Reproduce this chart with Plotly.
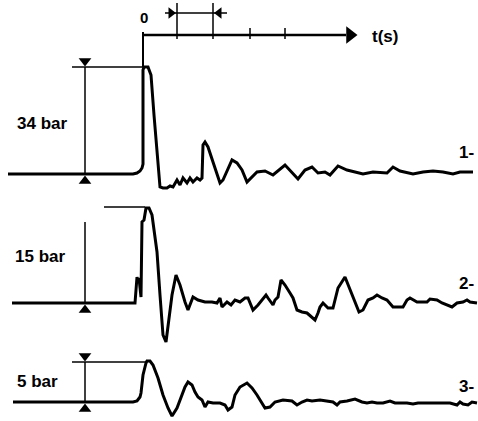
import plotly.graph_objects as go

# ---- data (time, signal) in drawing units ----
trace1 = [(8,174),(133,174),(137,173),(140,171),(142,168),(143,164),(143,70),(144,67),(148,67),
          (151,75),(154,115),(157,150),(160,187),(163,188),(167,188),(170,186),(173,187),(177,180),
          (180,185),(183,178),(187,183),(190,178),(193,182),(197,178),(200,180),(202,178),(203,145),
          (205,142),(208,147),(214,165),(220,183),(223,180),(232,160),(237,163),(242,170),(247,182),
          (257,172),(265,171),(273,175),(285,165),(292,172),(298,179),(305,170),(312,167),(318,173),
          (325,172),(330,175),(338,166),(347,170),(355,172),(363,174),(373,172),(387,173),(393,167),
          (400,171),(413,174),(423,172),(433,171),(443,172),(453,174),(460,172),(473,172)]

trace2 = [(12,303),(135,303),(137,277),(138,283),(139,278),(141,297),(142,222),(144,220),(146,208),
          (149,208),(152,215),(157,252),(160,295),(163,335),(166,342),(168,328),(172,295),(176,275),
          (180,285),(185,302),(188,310),(193,297),(198,300),(205,302),(212,302),(217,303),(220,298),
          (222,307),(227,302),(231,305),(235,300),(240,302),(245,298),(248,298),(253,310),(258,305),
          (263,299),(266,295),(268,298),(273,305),(275,300),(278,297),(281,280),(285,285),(290,293),
          (293,298),(297,310),(302,312),(307,313),(312,317),(315,320),(318,313),(320,307),(323,303),
          (328,308),(333,308),(338,288),(345,277),(350,290),(355,303),(359,312),(363,310),(368,300),
          (373,298),(377,295),(382,298),(387,300),(393,307),(403,307),(407,300),(410,298),(417,302),
          (427,302),(430,299),(437,300),(442,303),(447,305),(452,307),(457,303),(463,302),(467,300),
          (470,302),(477,303)]

trace3 = [(13,402),(133,402),(137,401),(140,397),(141,393),(142,383),(143,375),(146,363),(147,361),
          (150,361),(153,365),(158,378),(163,395),(168,408),(172,416),(177,408),(182,395),(185,387),
          (188,382),(192,385),(195,392),(198,397),(202,400),(205,407),(208,402),(213,403),(220,403),
          (225,405),(228,410),(232,407),(235,395),(240,387),(247,383),(252,388),(257,395),(262,403),
          (265,408),(270,407),(275,402),(283,400),(292,401),(297,405),(302,402),(307,400),(312,401),
          (320,400),(327,401),(333,402),(337,405),(340,402),(347,401),(355,399),(362,402),(367,403),
          (372,402),(377,403),(383,403),(390,401),(395,403),(400,403),(407,403),(413,404),(418,403),
          (425,403),(432,403),(440,403),(450,403),(457,405),(460,402),(463,404),(468,405),(472,402),
          (477,403)]

trace_labels = ["1-", "2-", "3-"]
trace_label_pos = [(466,152), (466,283), (466,386)]

bar_labels = ["34 bar", "15 bar", "5 bar"]
bar_label_pos = [(42,123), (40,256), (37,381)]

# dimension markers: (x, top, bottom, ref-line x0, ref-line x1, top arrow?, vertical top)
dims = [(85, 67, 174, 72, 143, True, 67),
        (85, 207, 303, 104, 145, False, 222),
        (85, 362, 402, 72, 147, True, 362)]

time_ticks = [177, 213, 250, 285]
time_tick_tops = [3, 3, 28, 28]

BLACK = "#000000"
fig = go.Figure()

def line(xs, ys, w):
    fig.add_trace(go.Scatter(x=xs, y=ys, mode="lines", line=dict(color=BLACK, width=w),
                             hoverinfo="skip"))

def arrow(x, y, sym, size):
    fig.add_trace(go.Scatter(x=[x], y=[y], mode="markers",
                             marker=dict(symbol=sym, size=size, color=BLACK, line=dict(width=0)),
                             hoverinfo="skip"))

for tr in (trace1, trace2, trace3):
    xs, ys = zip(*tr)
    line(list(xs), list(ys), 3)

# time axis
line([143, 346], [35, 35], 2.5)
arrow(350, 35, "triangle-right", 15)
line([143, 143], [32, 67], 2)
for tx, top in zip(time_ticks, time_tick_tops):
    line([tx, tx], [top, 39], 1.5)
# scale bar between first two ticks
line([165, 227], [13, 13], 1.5)
arrow(171, 13, "triangle-right", 10)
arrow(219, 13, "triangle-left", 10)

# dimension markers
for (dx, top, bot, hx0, hx1, has_top, vtop) in dims:
    line([hx0, hx1], [top, top], 1.5)
    line([dx, dx], [vtop, bot], 1.5)
    if has_top:
        arrow(dx, top - 6, "triangle-down", 11)
    arrow(dx, bot + 7, "triangle-up", 11)

FONT = "Liberation Sans, Arial, sans-serif"
ann = []
for txt, (x, y) in zip(bar_labels, bar_label_pos):
    ann.append(dict(x=x, y=y, text="<b>%s</b>" % txt, showarrow=False,
                    font=dict(family=FONT, size=17, color=BLACK)))
for txt, (x, y) in zip(trace_labels, trace_label_pos):
    ann.append(dict(x=x, y=y, text="<b>%s</b>" % txt, showarrow=False,
                    font=dict(family=FONT, size=17, color=BLACK)))
ann.append(dict(x=144, y=17, text="<b>0</b>", showarrow=False,
                font=dict(family=FONT, size=15, color=BLACK)))
ann.append(dict(x=385, y=36, text="<b>t(s)</b>", showarrow=False,
                font=dict(family=FONT, size=17, color=BLACK)))

fig.update_layout(
    width=478, height=421, margin=dict(l=0, r=0, t=0, b=0),
    paper_bgcolor="white", plot_bgcolor="white", showlegend=False,
    xaxis=dict(range=[0, 478], visible=False, fixedrange=True),
    yaxis=dict(range=[421, 0], visible=False, fixedrange=True),
    annotations=ann,
)

fig.write_html("out.html", config={"displayModeBar": False},
               post_script="document.body.style.margin='0';document.body.style.overflow='hidden';")
